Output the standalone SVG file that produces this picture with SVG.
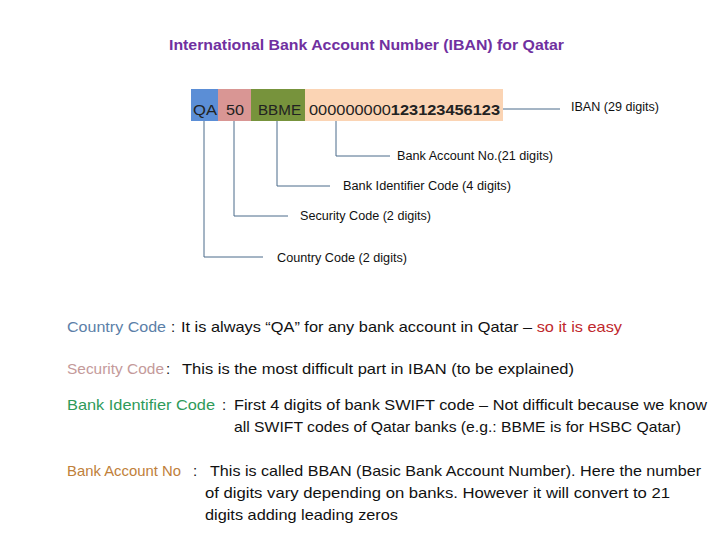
<svg xmlns="http://www.w3.org/2000/svg" width="720" height="540" viewBox="0 0 720 540">
<style>
text{font-family:"Liberation Sans",Arial,sans-serif;}
.title{font-size:14px;font-weight:bold;fill:#7030A0;}
.box{font-size:15px;fill:#222;}
.lbl{font-size:12px;fill:#111;}
.body{font-size:15px;fill:#111;}
.c-country{fill:#5B80A8;}
.c-sec{fill:#C49A9A;}
.c-bic{fill:#2E9A5A;}
.c-ban{fill:#C0803A;}
.c-red{fill:#C0282D;}
.conn{fill:none;stroke:#4A6A8A;stroke-width:1;}
</style>
<rect width="720" height="540" fill="#fff"/>
<text class="title" x="169" y="50" textLength="395" lengthAdjust="spacingAndGlyphs">International Bank Account Number (IBAN) for Qatar</text>

<g id="iban">
<rect x="191" y="89" width="27" height="32" fill="#5B8ED6"/>
<rect x="218" y="89" width="33" height="32" fill="#D99694"/>
<rect x="251" y="89" width="54" height="32" fill="#77933C"/>
<rect x="305" y="89" width="198" height="32" fill="#FBD4B4"/>
<text class="box" x="193" y="115" textLength="24" lengthAdjust="spacingAndGlyphs">QA</text>
<text class="box" x="226" y="115" textLength="18" lengthAdjust="spacingAndGlyphs">50</text>
<text class="box" x="258" y="115" textLength="43" lengthAdjust="spacingAndGlyphs">BBME</text>
<text class="box" x="309" y="115" textLength="191" lengthAdjust="spacingAndGlyphs">000000000<tspan font-weight="bold">123123456123</tspan></text>
</g>

<g id="connectors">
<path class="conn" d="M503 109H560"/>
<path class="conn" d="M336 121V156H390"/>
<path class="conn" d="M277 121V186H330"/>
<path class="conn" d="M234 121V216H288"/>
<path class="conn" d="M204 121V257H263"/>
</g>

<g id="lbl-iban"><text class="lbl" x="571" y="111" textLength="88" lengthAdjust="spacingAndGlyphs">IBAN (29 digits)</text></g>
<g id="lbl-account"><text class="lbl" x="397" y="160" textLength="156" lengthAdjust="spacingAndGlyphs">Bank Account No.(21 digits)</text></g>
<g id="lbl-bic"><text class="lbl" x="343" y="190" textLength="168" lengthAdjust="spacingAndGlyphs">Bank Identifier Code (4 digits)</text></g>
<g id="lbl-security"><text class="lbl" x="300" y="220" textLength="131" lengthAdjust="spacingAndGlyphs">Security Code (2 digits)</text></g>
<g id="lbl-country"><text class="lbl" x="277" y="262" textLength="130" lengthAdjust="spacingAndGlyphs">Country Code (2 digits)</text></g>

<g id="notes">
<text class="body c-country" x="67" y="332" textLength="99" lengthAdjust="spacingAndGlyphs">Country Code</text>
<text class="body" x="171" y="332">:</text>
<text class="body" x="181" y="332" textLength="441" lengthAdjust="spacingAndGlyphs">It is always “QA” for any bank account in Qatar – <tspan class="c-red">so it is easy</tspan></text>

<text class="body c-sec" x="67" y="374" textLength="97" lengthAdjust="spacingAndGlyphs">Security Code</text>
<text class="body" x="166" y="374">:</text>
<text class="body" x="182" y="374" textLength="392" lengthAdjust="spacingAndGlyphs">This is the most difficult part in IBAN (to be explained)</text>

<text class="body c-bic" x="67" y="410" textLength="148" lengthAdjust="spacingAndGlyphs">Bank Identifier Code</text>
<text class="body" x="222" y="410">:</text>
<text class="body" x="234" y="410" textLength="473" lengthAdjust="spacingAndGlyphs">First 4 digits of bank SWIFT code – Not difficult because we know</text>
<text class="body" x="234" y="432" textLength="447" lengthAdjust="spacingAndGlyphs">all SWIFT codes of Qatar banks (e.g.: BBME is for HSBC Qatar)</text>

<text class="body c-ban" x="67" y="476" textLength="114" lengthAdjust="spacingAndGlyphs">Bank Account No</text>
<text class="body" x="193" y="476">:</text>
<text class="body" x="210" y="476" textLength="491" lengthAdjust="spacingAndGlyphs">This is called BBAN (Basic Bank Account Number). Here the number</text>
<text class="body" x="205" y="498" textLength="465" lengthAdjust="spacingAndGlyphs">of digits vary depending on banks. However it will convert to 21</text>
<text class="body" x="205" y="520" textLength="193" lengthAdjust="spacingAndGlyphs">digits adding leading zeros</text>
</g>
</svg>
